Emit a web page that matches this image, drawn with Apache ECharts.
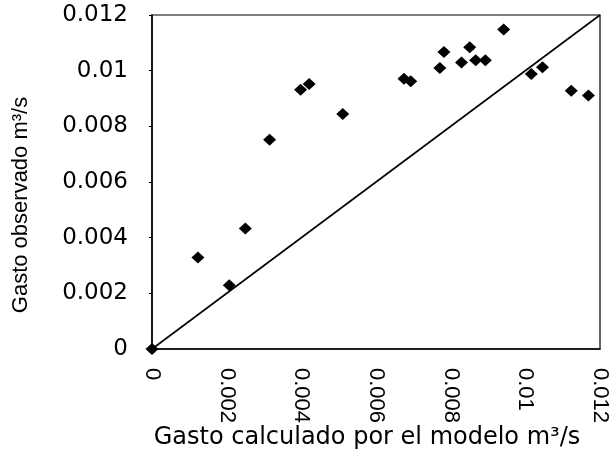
<!DOCTYPE html>
<html>
<head>
<meta charset="utf-8">
<script src="https://cdn.jsdelivr.net/npm/echarts@6/dist/echarts.min.js"></script>
<style>html,body{margin:0;padding:0;background:#fff}#c{width:611px;height:455px}</style>
</head>
<body>
<div id="c"></div>
<script>
var calculated = [0, 0.00123, 0.00207, 0.0025, 0.00315, 0.00398, 0.00421, 0.00511, 0.00675, 0.00693, 0.00771, 0.00782, 0.00829, 0.00851, 0.00867, 0.00893, 0.00942, 0.01016, 0.01046, 0.01123, 0.01169];
var observed   = [0, 0.00329, 0.00229, 0.00433, 0.00752, 0.00931, 0.00952, 0.00844, 0.00971, 0.00962, 0.0101, 0.01067, 0.01029, 0.01084, 0.01037, 0.01037, 0.01148, 0.00988, 0.01012, 0.00928, 0.00911];
var identityLine = [[0, 0], [0.012, 0.012]];
var ticks = [0, 0.002, 0.004, 0.006, 0.008, 0.01, 0.012];
var xTitle = 'Gasto calculado por el modelo m³/s';
var yTitle = 'Gasto observado m³/s';

var pts = calculated.map(function (x, i) { return [x, observed[i]]; });
var lib = '"Liberation Sans", Arial, sans-serif';
var dv = '"DejaVu Sans", sans-serif';
function fmt(v) { var s = ticks.find(function(t){return Math.abs(t - v) < 1e-9;}); return s === undefined ? '' : String(+v.toFixed(3)); }

var chart = echarts.init(document.getElementById('c'), null, {renderer: 'canvas'});
chart.setOption({
  backgroundColor: '#fff',
  animation: false,
  grid: {left: 152, top: 15, width: 450, height: 334, show: true, borderColor: '#000', borderWidth: 1.2, backgroundColor: 'transparent'},
  xAxis: {
    type: 'value', min: 0, max: 0.012, interval: 0.002,
    axisLine: {show: true, onZero: false, lineStyle: {color: '#000', width: 1.5}},
    axisTick: {show: false},
    splitLine: {show: false},
    axisLabel: {rotate: -90, margin: 19, fontFamily: lib, fontSize: 22, color: '#000', formatter: fmt}
  },
  yAxis: {
    type: 'value', min: 0, max: 0.012, interval: 0.002,
    axisLine: {show: true, onZero: false, lineStyle: {color: '#000', width: 1.5}},
    axisTick: {show: true, length: 3, lineStyle: {color: '#000'}},
    splitLine: {show: false},
    axisLabel: {margin: 24, fontFamily: dv, fontSize: 23, color: '#000', formatter: fmt}
  },
  graphic: [
    {type: 'text', x: 367, y: 438, style: {text: xTitle, font: '24px ' + dv, fill: '#000', textAlign: 'center', textVerticalAlign: 'middle'}},
    {type: 'text', x: 21, y: 205, rotation: Math.PI / 2, style: {text: yTitle, font: '22px ' + lib, fill: '#000', textAlign: 'center', textVerticalAlign: 'middle'}}
  ],
  series: [
    {type: 'line', data: identityLine, showSymbol: false, symbol: 'none', lineStyle: {color: '#000', width: 1.6}, z: 2},
    {type: 'scatter', data: pts, symbol: 'diamond', symbolSize: [13, 12], itemStyle: {color: '#000', opacity: 1}, clip: false, z: 3}
  ]
});
</script>
</body>
</html>
